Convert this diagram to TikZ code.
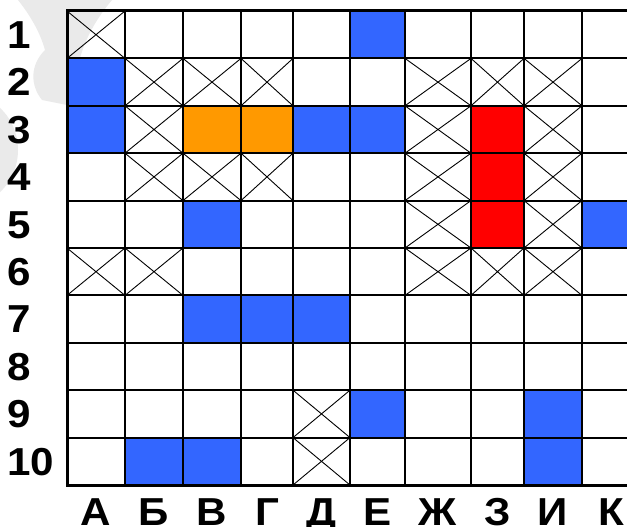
\documentclass[tikz,border=0pt]{standalone}
\usepackage{fontspec}
\setmainfont{Liberation Sans}
\definecolor{cblue}{HTML}{3366FF}
\definecolor{corange}{HTML}{FF9900}
\definecolor{cred}{HTML}{FF0000}
\definecolor{wm}{HTML}{EAEAEA}
\def\colx{{67,125,183,241,293,350,405,471,524,582,640}}
\newcommand\fillcell[3]{%
  \pgfmathsetmacro\xl{\colx[#1]}\pgfmathsetmacro\xr{\colx[#1+1]}%
  \fill[#3] (\xl,{11+47.4*(#2-1)}) rectangle (\xr,{11+47.4*#2});}
\newcommand\xcell[2]{%
  \pgfmathsetmacro\xl{\colx[#1]}\pgfmathsetmacro\xr{\colx[#1+1]}%
  \draw[xline] (\xl,{11+47.4*(#2-1)}) -- (\xr,{11+47.4*#2})
               (\xl,{11+47.4*#2}) -- (\xr,{11+47.4*(#2-1)});}
\newcommand\widetxt[1]{\scalebox{1.08}[1]{#1}}
\tikzset{
  xline/.style={line width=0.9pt,black},
  gridline/.style={line width=2pt,black},
  border/.style={line width=3pt,black},
  lbl/.style={font=\fontsize{39}{42}\selectfont\bfseries,inner sep=0pt,anchor=base},
  rowlbl/.style={font=\fontsize{39}{42}\selectfont\bfseries,inner sep=0pt,anchor=base west}
}
\begin{document}
\begin{tikzpicture}[x=1pt,y=-1pt]
\useasboundingbox (0,0) rectangle (627,527);
\fill[white] (0,0) rectangle (627,527);
% faint watermark
\fill[wm] (18,0) -- (112,0) .. controls (95,20) and (85,40) .. (80,58)
  -- (67,105) -- (42,100) .. controls (30,85) and (30,65) .. (45,50)
  .. controls (40,32) and (30,15) .. (18,0) -- cycle;
\fill[wm] (0,108) .. controls (24,130) and (24,170) .. (0,192) -- cycle;
\begin{scope}
\clip (0,0) rectangle (627,527);
% coloured cells
\foreach \c/\r in {5/1,0/2,0/3,4/3,5/3,2/5,9/5,2/7,3/7,4/7,5/9,8/9,1/10,2/10,8/10}
  {\fillcell{\c}{\r}{cblue}}
\foreach \c/\r in {2/3,3/3} {\fillcell{\c}{\r}{corange}}
\foreach \c/\r in {7/3,7/4,7/5} {\fillcell{\c}{\r}{cred}}
% crossed cells
\foreach \c/\r in {0/1,1/2,2/2,3/2,6/2,7/2,8/2,1/3,6/3,8/3,1/4,2/4,3/4,6/4,8/4,
  6/5,8/5,0/6,1/6,6/6,7/6,8/6,4/9,4/10}
  {\xcell{\c}{\r}}
% grid lines
\foreach \i in {1,...,9} {
  \pgfmathsetmacro\xx{\colx[\i]}
  \draw[gridline] (\xx,11) -- (\xx,485);
}
\foreach \j in {1,...,9} {
  \draw[gridline] (67,{11+47.4*\j}) -- (640,{11+47.4*\j});
}
\draw[border] (67,11) rectangle (640,485);
\end{scope}
% row labels
\foreach \r in {1,...,10} {
  \node[rowlbl] (r\r) at (7,{11+47.4*(\r-0.5)+13.8}) {\widetxt{\r}};
}
% column labels
\foreach \l [count=\i from 0] in {А,Б,В,Г,Д,Е,Ж,З,И,К} {
  \pgfmathsetmacro\xl{\colx[\i]}\pgfmathsetmacro\xr{\colx[\i+1]}
  \node[lbl] (c\i) at ({(\xl+\xr)/2},525) {\widetxt{\l}};
}
\end{tikzpicture}
\end{document}
